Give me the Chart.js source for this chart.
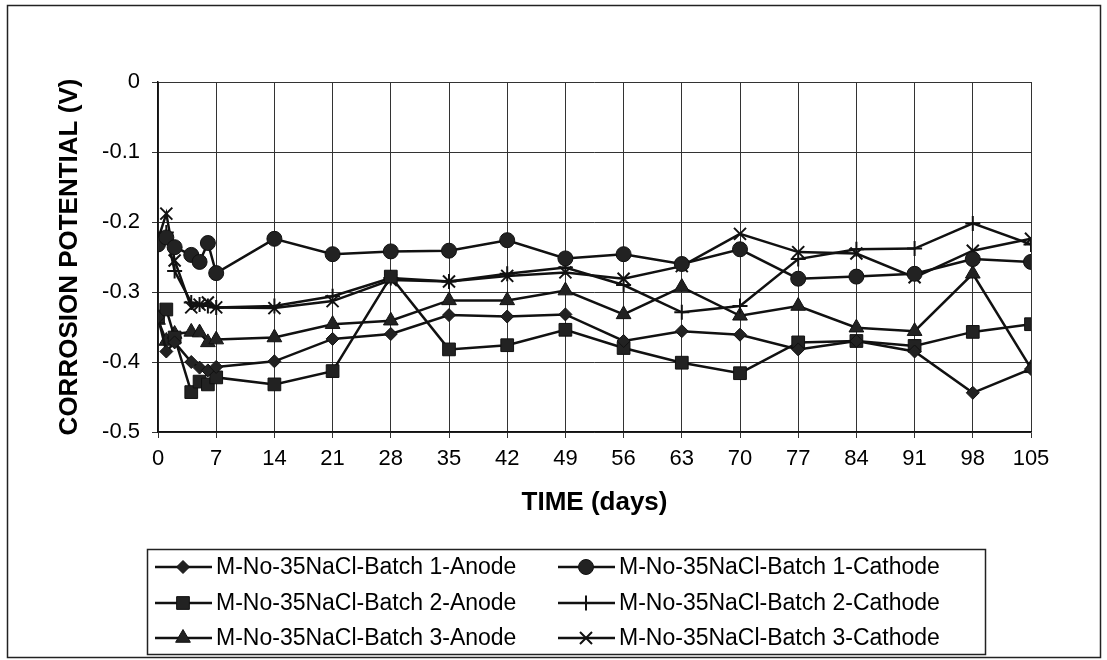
<!DOCTYPE html>
<html>
<head>
<meta charset="utf-8">
<script src="https://cdn.jsdelivr.net/npm/chart.js@4.4.0/dist/chart.umd.min.js"></script>
<style>
  html, body { margin: 0; padding: 0; background: #fff; }
</style>
</head>
<body>
<canvas id="corrChart" width="1107" height="660"></canvas>
<script>
var days = [0, 1, 2, 4, 5, 6, 7, 14, 21, 28, 35, 42, 49, 56, 63, 70, 77, 84, 91, 98, 105];

var b1Anode   = [-0.336, -0.385, -0.372, -0.400, -0.408, -0.412, -0.407, -0.399, -0.367, -0.360, -0.333, -0.335, -0.332, -0.370, -0.356, -0.361, -0.382, -0.370, -0.385, -0.444, -0.410];
var b1Cathode = [-0.232, -0.222, -0.236, -0.247, -0.257, -0.230, -0.273, -0.224, -0.246, -0.242, -0.241, -0.226, -0.252, -0.246, -0.260, -0.239, -0.281, -0.278, -0.274, -0.253, -0.257];
var b2Anode   = [-0.335, -0.325, -0.365, -0.443, -0.428, -0.432, -0.422, -0.432, -0.413, -0.278, -0.382, -0.376, -0.354, -0.380, -0.401, -0.416, -0.372, -0.370, -0.377, -0.357, -0.346];
var b2Cathode = [-0.225, -0.215, -0.270, -0.315, -0.318, -0.320, -0.322, -0.320, -0.306, -0.280, -0.285, -0.274, -0.265, -0.290, -0.329, -0.320, -0.253, -0.239, -0.238, -0.202, -0.232];
var b3Anode   = [-0.340, -0.370, -0.360, -0.357, -0.358, -0.372, -0.368, -0.365, -0.346, -0.341, -0.312, -0.312, -0.298, -0.332, -0.293, -0.334, -0.320, -0.351, -0.356, -0.274, -0.409];
var b3Cathode = [-0.225, -0.188, -0.255, -0.322, -0.318, -0.315, -0.322, -0.323, -0.313, -0.283, -0.285, -0.277, -0.272, -0.281, -0.263, -0.217, -0.243, -0.245, -0.279, -0.241, -0.224];

var seriesNames = [
    "M-No-35NaCl-Batch 1-Anode",
    "M-No-35NaCl-Batch 1-Cathode",
    "M-No-35NaCl-Batch 2-Anode",
    "M-No-35NaCl-Batch 2-Cathode",
    "M-No-35NaCl-Batch 3-Anode",
    "M-No-35NaCl-Batch 3-Cathode"
];
var seriesValues = [b1Anode, b1Cathode, b2Anode, b2Cathode, b3Anode, b3Cathode];
var markers = [
    { style: 'rectRot', radius: 6.5, border: 1 },
    { style: 'circle', radius: 7.5, border: 1 },
    { style: 'rect', radius: 9, border: 1 },
    { style: 'cross', radius: 7.5, border: 2 },
    { style: 'triangle', radius: 8.5, border: 1 },
    { style: 'crossRot', radius: 8.5, border: 2 }
];

var FONT = "'Liberation Sans', Arial, sans-serif";
var INK = "#111";

function points(vals) {
    return days.map(function (d, i) { return { x: d, y: vals[i] }; });
}

var datasets = seriesNames.map(function (name, i) {
    return {
        label: name,
        data: points(seriesValues[i]),
        borderColor: INK,
        backgroundColor: INK,
        borderWidth: 2.5,
        tension: 0,
        fill: false,
        pointStyle: markers[i].style,
        pointRadius: markers[i].radius,
        pointBorderWidth: markers[i].border,
        pointBackgroundColor: "#222",
        pointBorderColor: INK
    };
});

// frame around the whole figure + legend box drawn by hand (two columns, line + marker)
var framePlugin = {
    id: 'frame',
    beforeDraw: function (chart) {
        var ctx = chart.ctx;
        ctx.save();
        ctx.fillStyle = "#fff";
        ctx.fillRect(0, 0, chart.width, chart.height);
        ctx.strokeStyle = "#222";
        ctx.lineWidth = 1.5;
        ctx.strokeRect(7.5, 5.5, 1093, 652);
        ctx.restore();
    },
    afterDraw: function (chart) {
        var ctx = chart.ctx;
        ctx.save();
        ctx.strokeStyle = "#222";
        ctx.lineWidth = 1.5;
        ctx.strokeRect(147.5, 549.5, 838, 105);

        var colX = [155, 558];
        var rowY = [567, 603, 638];
        ctx.font = "23px " + FONT;
        ctx.textBaseline = "middle";
        ctx.textAlign = "left";
        for (var i = 0; i < seriesNames.length; i++) {
            var x = colX[i % 2], y = rowY[Math.floor(i / 2)];
            ctx.strokeStyle = INK;
            ctx.lineWidth = 2.5;
            ctx.beginPath();
            ctx.moveTo(x, y);
            ctx.lineTo(x + 57, y);
            ctx.stroke();
            ctx.fillStyle = "#222";
            ctx.strokeStyle = INK;
            ctx.lineWidth = markers[i].border;
            Chart.helpers.drawPoint(ctx, {
                pointStyle: markers[i].style,
                radius: markers[i].radius,
                rotation: 0,
                borderWidth: markers[i].border
            }, x + 28, y);
            ctx.fillStyle = "#000";
            ctx.fillText(seriesNames[i], x + 61, y + 1);
        }
        ctx.restore();
    }
};

var ctx = document.getElementById("corrChart");
var corrChart = new Chart(ctx, {
    type: 'line',
    data: { datasets: datasets },
    plugins: [framePlugin],
    options: {
        responsive: false,
        animation: false,
        layout: { padding: { left: 8, right: 76, top: 82, bottom: 138 } },
        plugins: {
            legend: { display: false },
            tooltip: { enabled: false }
        },
        scales: {
            x: {
                type: 'linear',
                min: 0,
                max: 105,
                afterFit: function (scale) { scale.height = 90; },
                ticks: {
                    stepSize: 7,
                    autoSkip: false,
                    maxRotation: 0,
                    padding: 8,
                    color: "#000",
                    font: { family: FONT, size: 22 }
                },
                grid: { color: "#333", lineWidth: 1, tickLength: 6 },
                border: { color: "#111", width: 1.5 },
                title: {
                    display: true,
                    text: "TIME (days)",
                    color: "#000",
                    font: { family: FONT, size: 26, weight: 'bold' },
                    padding: { top: 0, bottom: 4 }
                }
            },
            y: {
                min: -0.5,
                max: 0,
                afterFit: function (scale) { scale.width = 150; },
                ticks: {
                    stepSize: 0.1,
                    padding: 12,
                    color: "#000",
                    font: { family: FONT, size: 22 },
                    callback: function (v) { return v === 0 ? "0" : v.toFixed(1); }
                },
                grid: { color: "#333", lineWidth: 1, tickLength: 6 },
                border: { color: "#111", width: 1.5 },
                title: {
                    display: true,
                    text: "CORROSION POTENTIAL (V)",
                    color: "#000",
                    font: { family: FONT, size: 26, weight: 'bold' },
                    padding: { top: 46, bottom: 0 }
                }
            }
        }
    }
});
</script>
</body>
</html>
